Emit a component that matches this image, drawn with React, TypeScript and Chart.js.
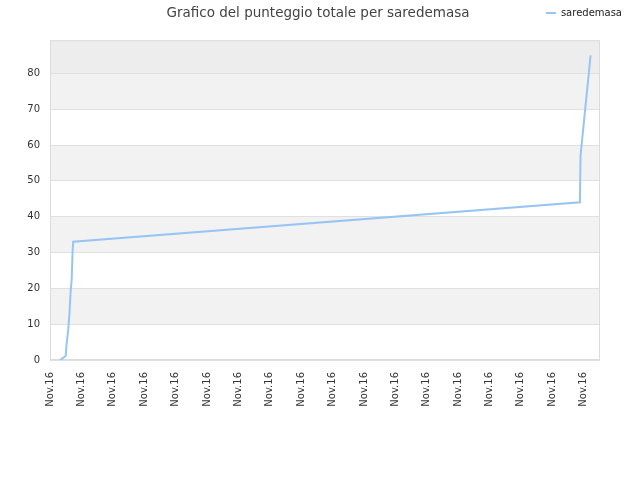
import React, { useEffect, useRef } from "react";
import { Chart, registerables } from "chart.js";

Chart.register(...registerables);

// ---- data ----
const TITLE = "Grafico del punteggio totale per saredemasa";
const SERIES_NAME = "saredemasa";
const X_TICK_LABEL = "Nov.16";
// x positions (days from first tick)
const xDays = [0.32, 0.5, 0.53, 0.58, 0.62, 0.66, 0.69, 0.72, 0.74, 16.88, 16.9, 17.22];
// total score at each point
const scores = [0, 1.1, 4.6, 8.4, 13, 19.5, 22.3, 30.2, 33, 44, 57, 85];
const Y_MAX = 89.25;
const X_MAX = 17.52;
const Y_STEP = 10;

const FONT = '"DejaVu Sans", sans-serif';
const LINE_COLOR = "rgb(150,197,243)";

const bandsPlugin = {
  id: "bands",
  beforeDraw(chart: any) {
    const { ctx, chartArea: a } = chart;
    const y = chart.scales.y;
    ctx.save();
    ctx.fillStyle = "#ffffff";
    ctx.fillRect(0, 0, chart.width, chart.height);
    const ticks: number[] = y.ticks.map((t: any) => t.value);
    const bounds = [...ticks];
    const hasPartialTop = bounds[bounds.length - 1] < y.max;
    if (hasPartialTop) bounds.push(y.max);
    for (let i = 0; i < bounds.length - 1; i++) {
      const top = y.getPixelForValue(bounds[i + 1]);
      const bot = y.getPixelForValue(bounds[i]);
      let color: string | null = null;
      if (hasPartialTop && i === bounds.length - 2) color = "#ededed";
      else if (i % 2 === 1) color = "#f2f2f2";
      if (color) {
        ctx.fillStyle = color;
        ctx.fillRect(a.left, top, a.right - a.left, bot - top);
      }
    }
    ctx.restore();
  },
  beforeDatasetsDraw(chart: any) {
    const { ctx, chartArea: a } = chart;
    ctx.save();
    ctx.strokeStyle = "#dcdcdc";
    ctx.lineWidth = 1;
    ctx.strokeRect(a.left + 0.5, a.top + 0.5, a.right - a.left - 1, a.bottom - a.top - 1);
    ctx.restore();
  },
  afterDraw(chart: any) {
    const { ctx } = chart;
    ctx.save();
    ctx.font = `13.5px ${FONT}`;
    ctx.fillStyle = "#444444";
    ctx.textAlign = "center";
    ctx.textBaseline = "middle";
    ctx.fillText(TITLE, chart.width / 2 - 2, 13);
    ctx.restore();
  },
};

export default function App() {
  const ref = useRef<HTMLCanvasElement>(null);

  useEffect(() => {
    document.body.style.margin = "0";
    const points = xDays.map((x, i) => ({ x, y: scores[i] }));
    const chart = new Chart(ref.current as HTMLCanvasElement, {
      type: "line",
      data: {
        datasets: [
          {
            label: SERIES_NAME,
            data: points,
            borderColor: LINE_COLOR,
            backgroundColor: LINE_COLOR,
            borderWidth: 2,
            pointRadius: 0,
            tension: 0,
            fill: false,
          },
        ],
      },
      options: {
        animation: false,
        responsive: true,
        maintainAspectRatio: false,
        layout: { padding: { top: 0, right: 10, left: 0, bottom: 0 } },
        plugins: {
          // empty spacer between legend and plot area
          title: {
            display: true,
            text: "",
            weight: 500,
            font: { size: 1 },
            padding: { top: 0, bottom: 11 },
          },
          tooltip: { enabled: false },
          legend: {
            display: true,
            position: "top",
            align: "end",
            labels: {
              font: { family: FONT, size: 10 },
              color: "#222222",
              boxWidth: 10,
              boxHeight: 2,
              padding: 8,
              generateLabels: (c: any) =>
                Chart.defaults.plugins.legend.labels
                  .generateLabels(c)
                  .map((l: any) => ({ ...l, lineWidth: 0 })),
            },
          },
        },
        scales: {
          x: {
            type: "linear",
            min: 0,
            max: X_MAX,
            afterFit: (s: any) => {
              s.height = 120;
            },
            grid: { display: false, drawTicks: false },
            border: { display: false },
            ticks: {
              stepSize: 1,
              includeBounds: false,
              autoSkip: false,
              minRotation: 90,
              maxRotation: 90,
              padding: 12,
              color: "#333333",
              font: { family: FONT, size: 10 },
              callback: () => X_TICK_LABEL,
            },
          },
          y: {
            type: "linear",
            min: 0,
            max: Y_MAX,
            afterFit: (s: any) => {
              s.width = 50;
            },
            grid: { color: "#e0e0e0", drawTicks: false },
            border: { display: false },
            ticks: {
              stepSize: Y_STEP,
              includeBounds: false,
              padding: 10,
              color: "#333333",
              font: { family: FONT, size: 10 },
            },
          },
          // empty right-side spacer so the plot ends where the reference's does
          yRight: {
            type: "linear",
            position: "right",
            display: true,
            afterFit: (s: any) => {
              s.width = 30;
            },
            grid: { display: false, drawTicks: false },
            border: { display: false },
            ticks: { display: false },
          },
        },
      },
      plugins: [bandsPlugin],
    });
    return () => chart.destroy();
  }, []);

  return (
    <div style={{ position: "fixed", left: 0, top: 0, width: 640, height: 480, background: "#fff" }}>
      <canvas ref={ref} />
    </div>
  );
}
